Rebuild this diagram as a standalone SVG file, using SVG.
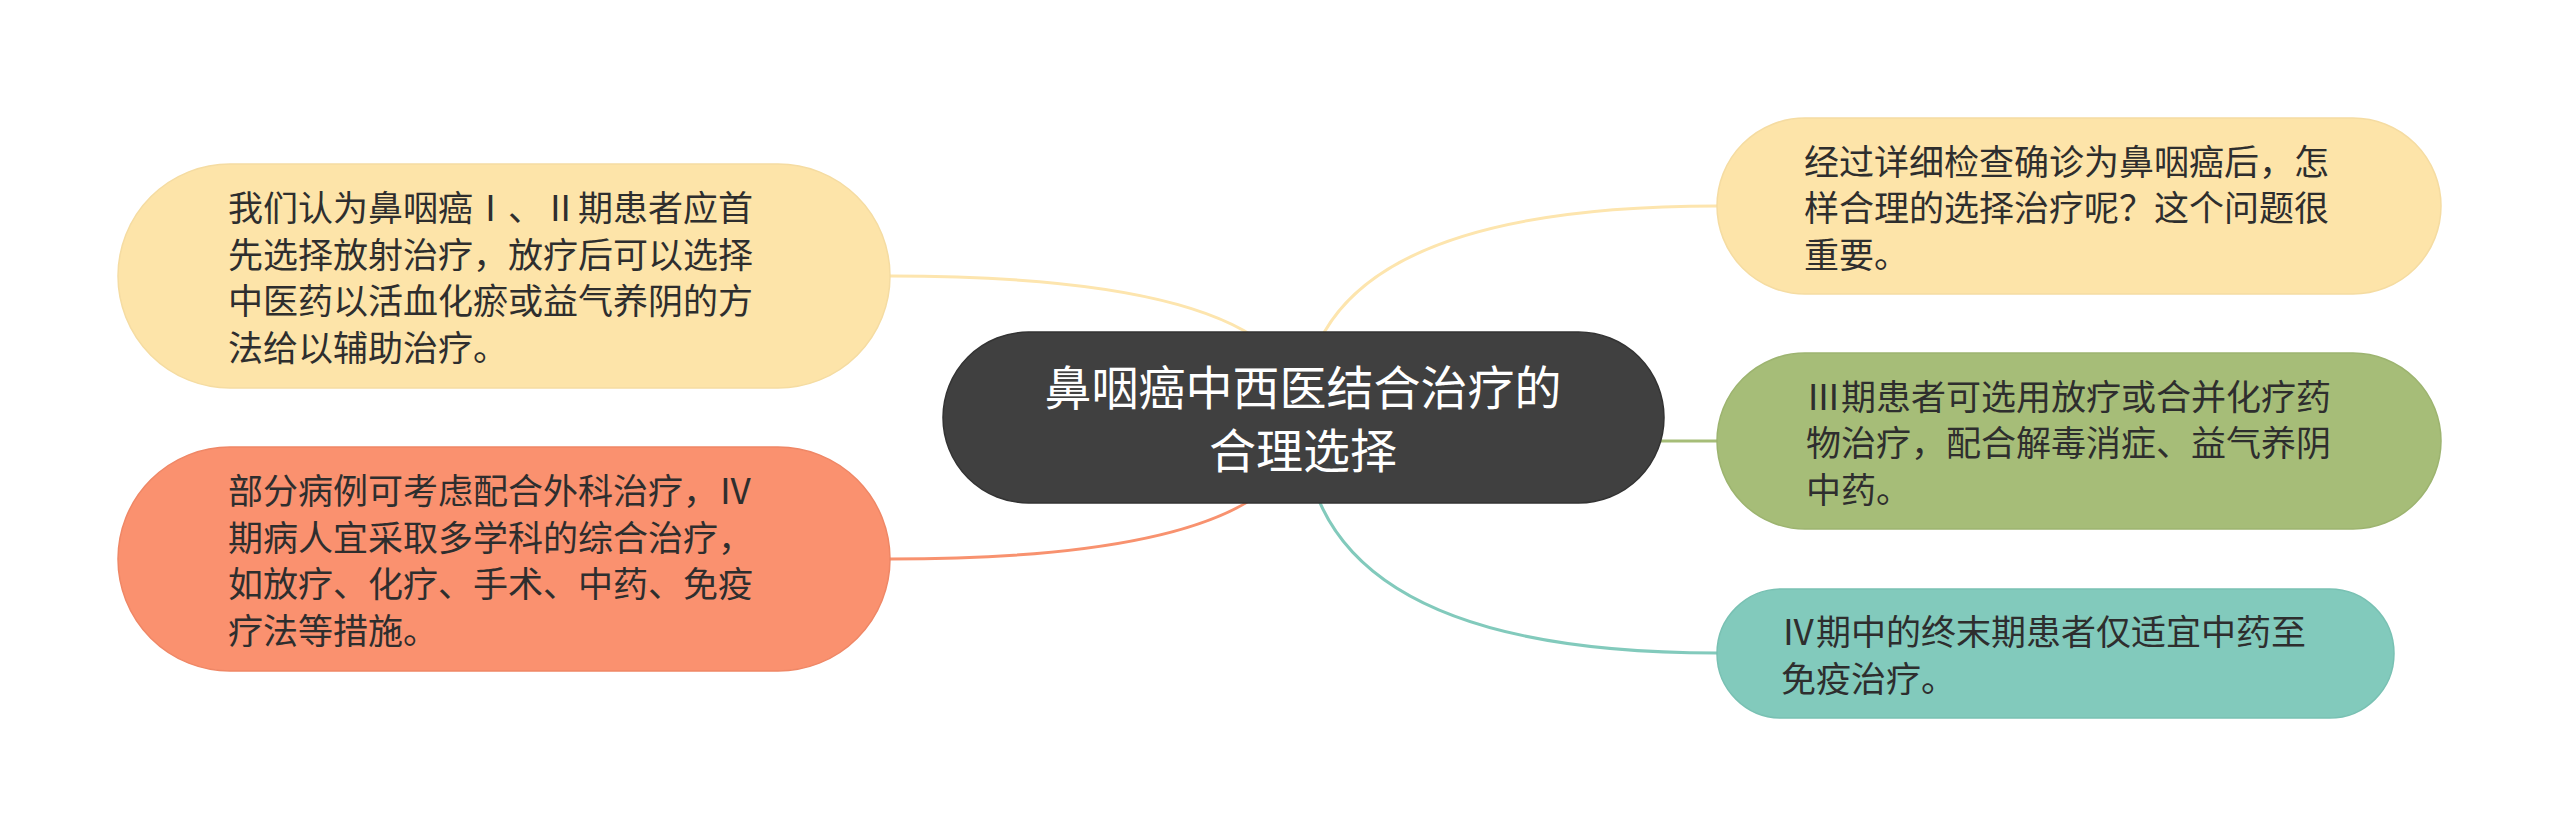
<svg xmlns="http://www.w3.org/2000/svg" width="2560" height="836" viewBox="0 0 2560 836">
<style>
.t{font-family:"Noto Sans CJK SC","Noto Sans",sans-serif;font-size:35px;fill:#2e2e2e}
.rt{font-family:"Noto Sans CJK SC","Noto Sans",sans-serif;font-size:47px;fill:#ffffff;text-anchor:middle}
.c{fill:none;stroke-width:3;stroke-linecap:round}
</style>
<rect width="2560" height="836" fill="#ffffff"/>
<g id="connectors">
<path class="c" stroke="#fde5ae" d="M1303,417 Q1303,276 890,276"/>
<path class="c" stroke="#f8926f" d="M1303,417 Q1303,559 890,559"/>
<path class="c" stroke="#fde5ae" d="M1303,417 Q1303,206 1717,206"/>
<path class="c" stroke="#a6bd78" d="M1303,417 Q1303,441 1717,441"/>
<path class="c" stroke="#82cabc" d="M1303,417 Q1303,653 1717,653"/>
</g>
<g id="root">
<rect x="943" y="332" width="721" height="171" rx="85.5" fill="#404040" stroke="#333333" stroke-width="1.5"/>
<text class="rt" x="1303" y="405">鼻咽癌中西医结合治疗的</text>
<text class="rt" x="1303" y="468">合理选择</text>
</g>
<g id="node-left-1">
<rect x="118" y="164" width="772" height="224" rx="112" fill="#fde4a9" stroke="#f5dca2" stroke-width="1.5"/>
<text class="t" x="228" y="221">我们认为鼻咽癌Ⅰ、Ⅱ期患者应首</text>
<text class="t" x="228" y="268">先选择放射治疗，放疗后可以选择</text>
<text class="t" x="228" y="314">中医药以活血化瘀或益气养阴的方</text>
<text class="t" x="228" y="361">法给以辅助治疗。</text>
</g>
<g id="node-left-2">
<rect x="118" y="447" width="772" height="224" rx="112" fill="#fa916f" stroke="#ef8766" stroke-width="1.5"/>
<text class="t" x="228" y="504">部分病例可考虑配合外科治疗，Ⅳ</text>
<text class="t" x="228" y="551">期病人宜采取多学科的综合治疗，</text>
<text class="t" x="228" y="597">如放疗、化疗、手术、中药、免疫</text>
<text class="t" x="228" y="644">疗法等措施。</text>
</g>
<g id="node-right-1">
<rect x="1717" y="118" width="724" height="176" rx="88" fill="#fde4a9" stroke="#f5dca2" stroke-width="1.5"/>
<text class="t" x="1804" y="175">经过详细检查确诊为鼻咽癌后，怎</text>
<text class="t" x="1804" y="221">样合理的选择治疗呢？这个问题很</text>
<text class="t" x="1804" y="268">重要。</text>
</g>
<g id="node-right-2">
<rect x="1717" y="353" width="724" height="176" rx="88" fill="#a6bd78" stroke="#9db470" stroke-width="1.5"/>
<text class="t" x="1806" y="410">Ⅲ期患者可选用放疗或合并化疗药</text>
<text class="t" x="1806" y="456">物治疗，配合解毒消症、益气养阴</text>
<text class="t" x="1806" y="503">中药。</text>
</g>
<g id="node-right-3">
<rect x="1717" y="589" width="677" height="129" rx="64.5" fill="#82cabc" stroke="#79c1b3" stroke-width="1.5"/>
<text class="t" x="1781" y="645">Ⅳ期中的终末期患者仅适宜中药至</text>
<text class="t" x="1781" y="692">免疫治疗。</text>
</g>
</svg>
